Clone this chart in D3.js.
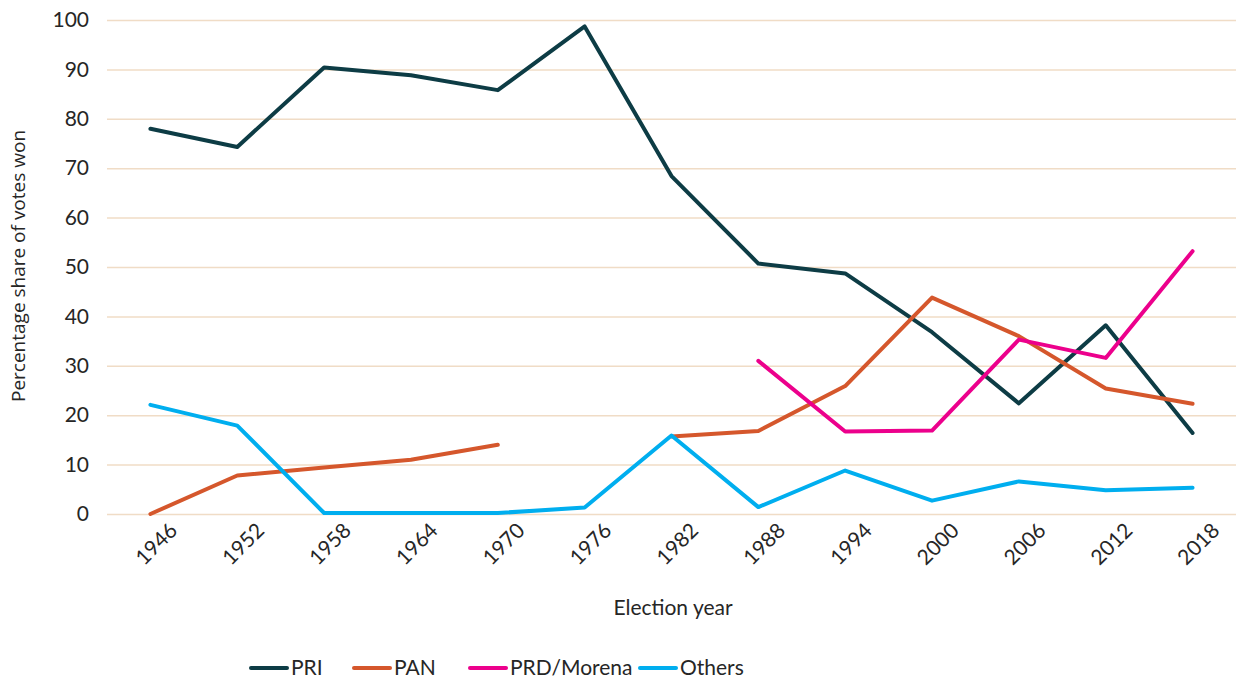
<!DOCTYPE html>
<html>
<head>
<meta charset="utf-8">
<script src="https://cdn.jsdelivr.net/npm/d3@7"></script>
<style>
  body { margin: 0; background: #fff; }
  svg { display: block; font-family: Lato, "Noto Sans", sans-serif; }
</style>
</head>
<body>
<div id="chart"></div>
<script>
const years = [1946, 1952, 1958, 1964, 1970, 1976, 1982, 1988, 1994, 2000, 2006, 2012, 2018];
const pri    = [78, 74.3, 90.4, 88.8, 85.8, 98.7, 68.4, 50.7, 48.7, 36.8, 22.4, 38.2, 16.4];
const pan    = [0, 7.8, 9.4, 11, 14, null, 15.7, 16.8, 25.9, 43.8, 36, 25.4, 22.3];
const prd    = [null, null, null, null, null, null, null, 31, 16.7, 16.9, 35.3, 31.6, 53.2];
const others = [22.1, 17.9, 0.2, 0.2, 0.2, 1.3, 15.9, 1.4, 8.8, 2.7, 6.6, 4.8, 5.3];
const yTicks = [0, 10, 20, 30, 40, 50, 60, 70, 80, 90, 100];

const series = [
  {name: "PRI", values: pri, color: "#0d3c45"},
  {name: "PAN", values: pan, color: "#d5572c"},
  {name: "PRD/Morena", values: prd, color: "#ec008c"},
  {name: "Others", values: others, color: "#00aeef"}
];

const w = 1238, h = 680;
const plotLeft = 107, plotRight = 1236, plotTop = 20, plotBottom = 514;

const svg = d3.select("#chart").append("svg")
  .attr("width", w)
  .attr("height", h);

const x = d3.scaleBand().domain(years).range([plotLeft, plotRight]);
const y = d3.scaleLinear().domain([0, 100]).range([plotBottom, plotTop]);

// gridlines + y labels
const yAxis = d3.axisLeft(y).tickValues(yTicks).tickSize(-(plotRight - plotLeft)).tickPadding(18);
svg.append("g")
  .attr("transform", `translate(${plotLeft},0)`)
  .call(yAxis)
  .call(g => g.select(".domain").remove())
  .call(g => g.selectAll(".tick line").attr("stroke", "#f0dcc6").attr("stroke-width", 1.5))
  .call(g => g.selectAll(".tick text")
    .attr("fill", "#262626").attr("font-size", 21).attr("font-family", "Lato, sans-serif"));

// x labels
const xAxis = d3.axisBottom(x).tickSize(0).tickPadding(0);
svg.append("g")
  .attr("transform", `translate(0,${plotBottom})`)
  .call(xAxis)
  .call(g => g.select(".domain").remove())
  .call(g => g.selectAll(".tick text")
    .attr("fill", "#262626").attr("font-size", 21).attr("font-family", "Lato, sans-serif")
    .attr("text-anchor", "middle")
    .attr("dy", 0)
    .attr("transform", "translate(11,35) rotate(-45)"));

// lines
const line = d3.line()
  .defined(d => d.v !== null)
  .x(d => x(d.year) + x.bandwidth() / 2)
  .y(d => y(d.v));

series.forEach(s => {
  svg.append("path")
    .datum(years.map((yr, i) => ({year: yr, v: s.values[i]})))
    .attr("fill", "none")
    .attr("stroke", s.color)
    .attr("stroke-width", 4)
    .attr("stroke-linejoin", "round")
    .attr("stroke-linecap", "round")
    .attr("d", line);
});

// axis titles
svg.append("text")
  .attr("transform", "translate(25,266) rotate(-90)")
  .attr("text-anchor", "middle")
  .attr("font-family", "'Open Sans', sans-serif")
  .attr("font-size", 19)
  .attr("fill", "#262626")
  .text("Percentage share of votes won");

svg.append("text")
  .attr("x", 673)
  .attr("y", 615)
  .attr("text-anchor", "middle")
  .attr("font-size", 21)
  .attr("fill", "#262626")
  .text("Election year");

// legend
const startX = [251, 354, 470, 640];
const lg = svg.append("g");
series.forEach((s, i) => {
  const g = lg.append("g").attr("transform", `translate(${startX[i]},668)`);
  g.append("line")
    .attr("x1", 0).attr("x2", 36)
    .attr("stroke", s.color).attr("stroke-width", 4).attr("stroke-linecap", "round");
  g.append("text")
    .attr("x", 40).attr("y", 7)
    .attr("font-size", 21)
    .attr("fill", "#262626")
    .text(s.name);
});
</script>
</body>
</html>
